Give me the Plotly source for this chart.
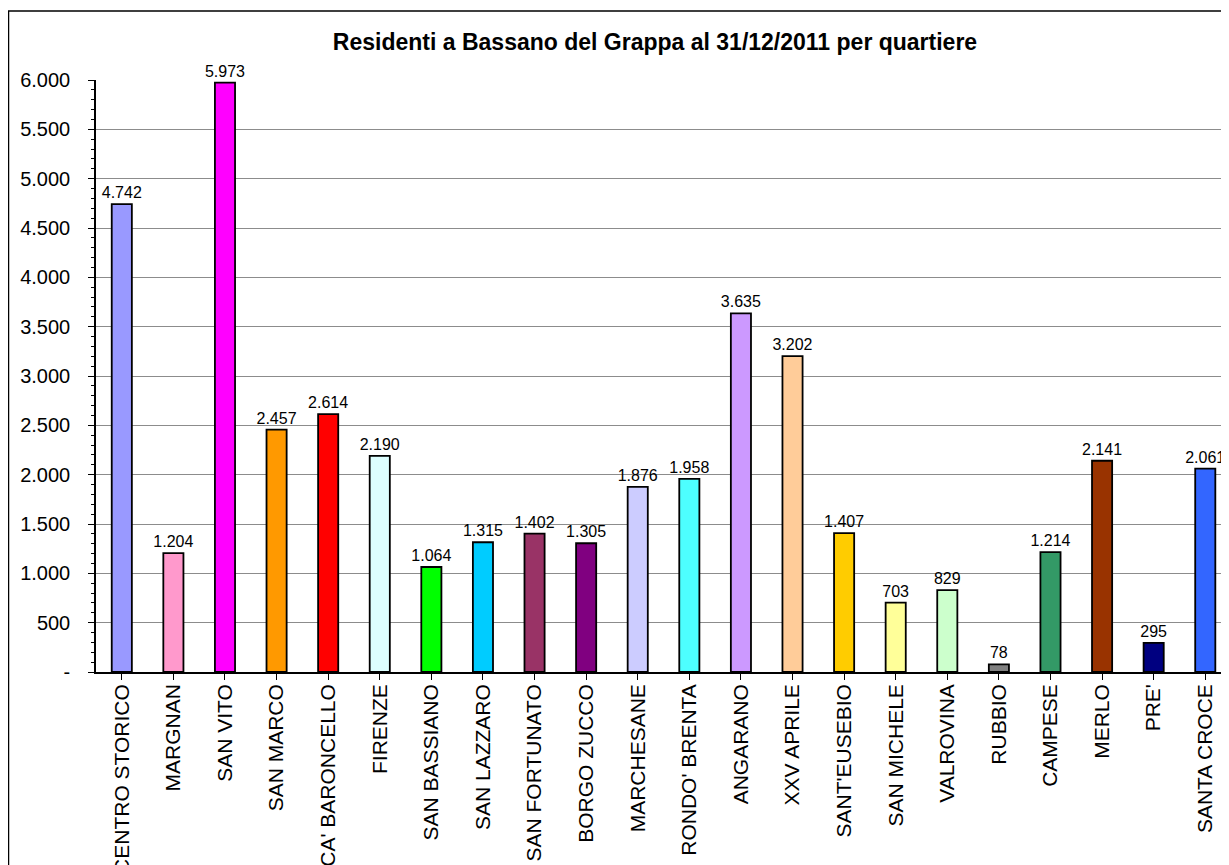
import plotly.graph_objects as go

quartieri = [
    "CENTRO STORICO", "MARGNAN", "SAN VITO", "SAN MARCO", "CA' BARONCELLO",
    "FIRENZE", "SAN BASSIANO", "SAN LAZZARO", "SAN FORTUNATO", "BORGO ZUCCO",
    "MARCHESANE", "RONDO' BRENTA", "ANGARANO", "XXV APRILE", "SANT'EUSEBIO",
    "SAN MICHELE", "VALROVINA", "RUBBIO", "CAMPESE", "MERLO", "PRE'", "SANTA CROCE",
]
residenti = [
    4742, 1204, 5973, 2457, 2614, 2190, 1064, 1315, 1402, 1305, 1876,
    1958, 3635, 3202, 1407, 703, 829, 78, 1214, 2141, 295, 2061,
]
colori = [
    "#9999FF", "#FF99CC", "#FF00FF", "#FF9900", "#FF0000", "#DDFFFF",
    "#00FF00", "#00CCFF", "#993366", "#800080", "#CCCCFF", "#4DFFFF",
    "#CC99FF", "#FFCC99", "#FFCC00", "#FFFF99", "#CCFFCC", "#808080",
    "#339966", "#993300", "#000080", "#3366FF",
]
y_ticks = [0, 500, 1000, 1500, 2000, 2500, 3000, 3500, 4000, 4500, 5000, 5500, 6000]

FONT = "Arial, Liberation Sans, sans-serif"

# the page body adds an 8px margin, so the figure is 8px smaller than the window
W, H = 1221, 857
PLOT_L, PLOT_T, PLOT_B = 88, 72, 664
PLOT_W = W - PLOT_L
PLOT_H = PLOT_B - PLOT_T


def px_x(x):
    return (x - PLOT_L) / PLOT_W


def px_y(y):
    return (PLOT_B - y) / PLOT_H


fig = go.Figure()
fig.add_trace(
    go.Bar(
        x=list(range(len(quartieri))),
        y=residenti,
        width=0.39,
        marker={"color": colori, "line": {"color": "#000000", "width": 1.8}},
        texttemplate="%{y:,}",
        textposition="outside",
        constraintext="none",
        textfont={"family": FONT, "size": 16, "color": "#000000"},
        cliponaxis=False,
        hoverinfo="skip",
        showlegend=False,
    )
)

fig.update_layout(
    width=W,
    height=H,
    separators=",.",
    paper_bgcolor="#FFFFFF",
    plot_bgcolor="#FFFFFF",
    margin={"l": PLOT_L, "r": 0, "t": PLOT_T, "b": H - PLOT_B, "autoexpand": False},
    font={"family": FONT, "color": "#000000"},
    title={
        "text": "<b>Residenti a Bassano del Grappa al 31/12/2011 per quartiere</b>",
        "x": 647 / W,
        "xanchor": "center",
        "y": 1 - 34 / H,
        "yanchor": "middle",
        "font": {"family": FONT, "size": 23, "color": "#000000"},
    },
    shapes=[
        {
            "type": "rect",
            "xref": "paper",
            "yref": "paper",
            "x0": px_x(0.5),
            "x1": px_x(W + 20),
            "y0": px_y(H + 20),
            "y1": px_y(3),
            "line": {"color": "#000000", "width": 1.5},
            "fillcolor": "rgba(0,0,0,0)",
            "layer": "below",
        }
    ],
)

fig.update_xaxes(
    range=[-0.5, 21.46],
    tickmode="array",
    tickvals=list(range(len(quartieri))),
    ticktext=quartieri,
    tickangle=-90,
    tickfont={"family": FONT, "size": 21, "color": "#000000"},
    tickson="boundaries",
    ticks="outside",
    ticklen=6,
    tickcolor="#000000",
    ticklabelstandoff=-4,
    showline=True,
    linecolor="#000000",
    linewidth=1.5,
    showgrid=False,
    zeroline=False,
)

fig.update_yaxes(
    range=[0, 6000],
    tickmode="array",
    tickvals=y_ticks,
    ticktext=["-" if v == 0 else f"{v:,}".replace(",", ".") for v in y_ticks],
    tickfont={"family": FONT, "size": 20, "color": "#000000"},
    ticks="outside",
    ticklen=6,
    tickcolor="#000000",
    ticklabelstandoff=14,
    minor={"dtick": 100, "ticks": "outside", "ticklen": 3, "tickcolor": "#000000", "showgrid": False},
    showline=True,
    linecolor="#000000",
    linewidth=1.5,
    showgrid=True,
    gridcolor="#8C8C8C",
    gridwidth=1,
    zeroline=False,
)

fig.write_html("out.html")
